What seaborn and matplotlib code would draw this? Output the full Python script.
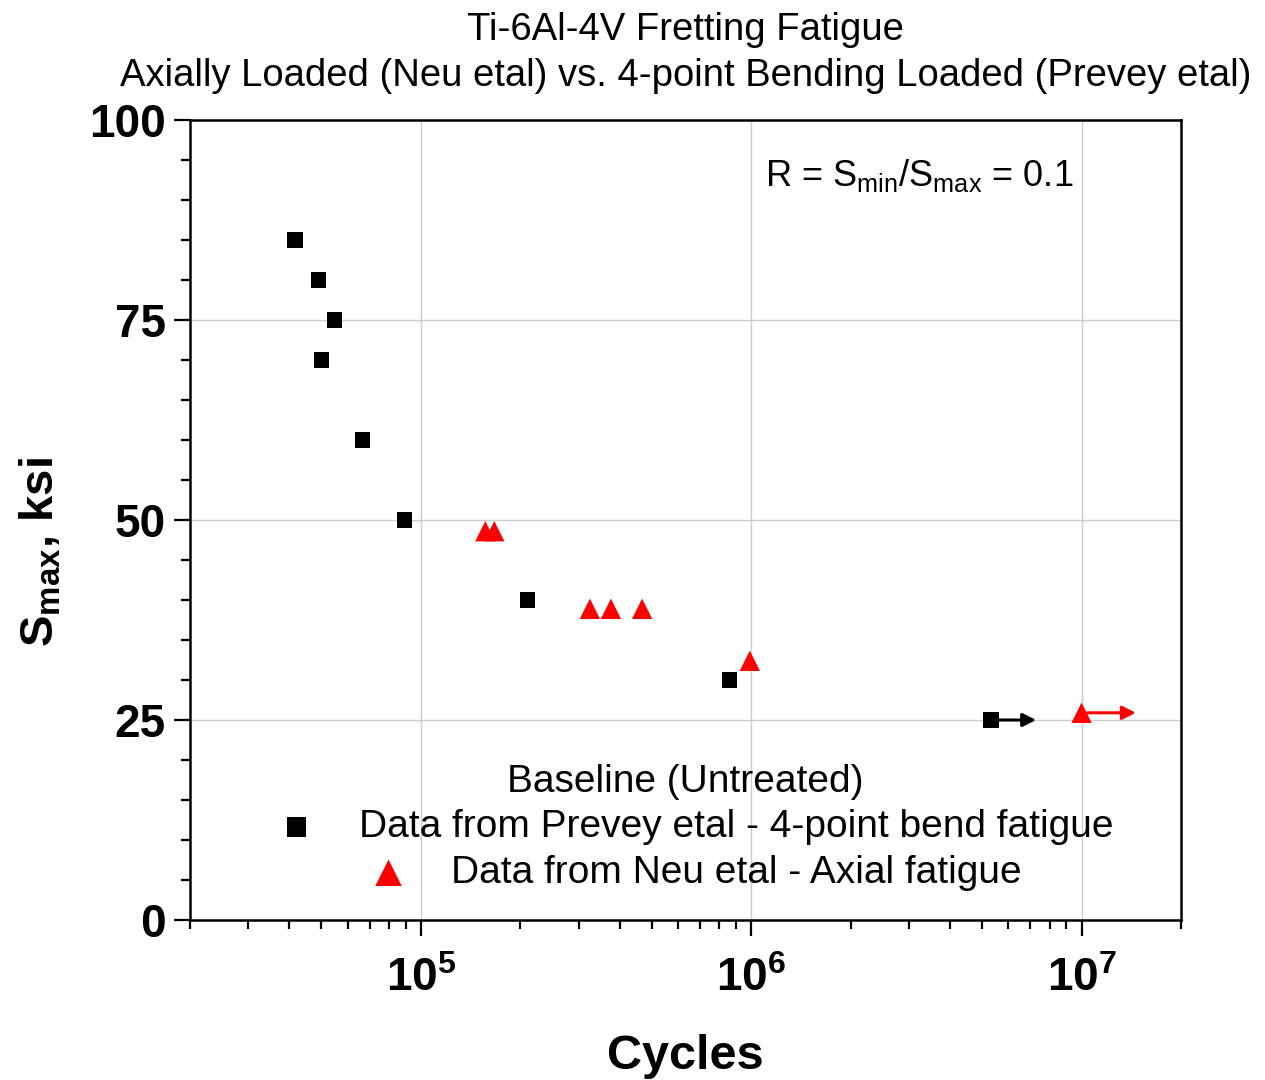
import numpy as np
import pandas as pd
import matplotlib
matplotlib.use("Agg")
import matplotlib.pyplot as plt
from matplotlib.ticker import FixedLocator, LogLocator, FuncFormatter, NullFormatter
import seaborn as sns

# ---- data ----
prevey_cycles = [41600, 48900, 54700, 50000, 66600, 89400, 210000, 860000, 5320000]
prevey_smax = [85, 80, 75, 70, 60, 50, 40, 30, 25]
neu_cycles = [156700, 166800, 324700, 376000, 467400, 990000, 10000000]
neu_smax = [48.6, 48.6, 38.9, 38.9, 38.9, 32.4, 25.9]
runout_prevey = [5320000]
runout_prevey_s = [25]
runout_neu = [10000000]
runout_neu_s = [25.9]
y_ticks = [0, 25, 50, 75, 100]
x_major = [1e5, 1e6, 1e7]

sns.set_theme(style="white")
plt.rcParams['font.family'] = ['Liberation Sans', 'DejaVu Sans']
plt.rcParams['mathtext.fontset'] = 'custom'
plt.rcParams['mathtext.rm'] = 'Liberation Sans'
plt.rcParams['mathtext.it'] = 'Liberation Sans'
plt.rcParams['mathtext.bf'] = 'Liberation Sans:bold'
for k in ['text.color', 'axes.labelcolor', 'xtick.color', 'ytick.color']:
    plt.rcParams[k] = 'black'

fig = plt.figure(figsize=(12.65, 10.8), dpi=100)
ax = fig.add_axes([190/1265, 160/1080, (1181-190)/1265, 800/1080])

df_p = pd.DataFrame({"Cycles": prevey_cycles, "Smax": prevey_smax})
df_n = pd.DataFrame({"Cycles": neu_cycles, "Smax": neu_smax})

sns.scatterplot(data=df_p, x="Cycles", y="Smax", marker="s", s=120, color="black",
                edgecolor="none", ax=ax, label="Data from Prevey etal - 4-point bend fatigue", zorder=3)
sns.scatterplot(data=df_n, x="Cycles", y="Smax", marker="^", s=215, color="red",
                edgecolor="none", ax=ax, label="Data from Neu etal - Axial fatigue", zorder=3)

# run-out arrows
for xs, ys, c, f in [(runout_prevey, runout_prevey_s, "black", 1.37), (runout_neu, runout_neu_s, "red", 1.46)]:
    for xv, yv in zip(xs, ys):
        ax.annotate("", xy=(xv * f, yv), xytext=(xv * 1.04, yv),
                    arrowprops=dict(arrowstyle="-|>", color=c, lw=2.2, mutation_scale=20,
                                    shrinkA=0, shrinkB=0), zorder=4)

ax.set_xscale("log")
ax.set_xlim(2e4, 2e7)
ax.set_ylim(0, 100)

ax.xaxis.set_major_locator(FixedLocator(x_major))
ax.xaxis.set_minor_locator(LogLocator(base=10, subs=np.arange(2, 10)))
ax.xaxis.set_minor_formatter(NullFormatter())
ax.xaxis.set_major_formatter(FuncFormatter(lambda v, p: r"$\mathbf{10^{%d}}$" % round(np.log10(v))))
ax.yaxis.set_major_locator(FixedLocator(y_ticks))
ax.yaxis.set_minor_locator(FixedLocator(np.arange(0, 101, 5)))

ax.grid(True, which="major", color="#cccccc", linewidth=1.0)
ax.set_axisbelow(True)

for sp in ax.spines.values():
    sp.set_visible(True)
    sp.set_color("black")
    sp.set_linewidth(1.8)

ax.tick_params(axis="both", which="major", direction="out", length=11.5, width=1.6, color="black")
ax.tick_params(axis="both", which="minor", direction="out", length=6.5, width=1.6, color="black")
ax.tick_params(axis="x", which="both", bottom=True, top=False, labelsize=33, pad=15)
ax.tick_params(axis="y", which="both", left=True, right=False, labelsize=33, pad=6)
for lab in ax.get_yticklabels():
    lab.set_fontweight("bold")

ax.set_xlabel("Cycles", fontsize=35, fontweight="bold", labelpad=24)
ax.set_ylabel(r"S$_{\mathbf{max}}$, ksi", fontsize=34, fontweight="bold")
ax.yaxis.set_label_coords(-0.128, 0.46)

ax.set_title("Ti-6Al-4V Fretting Fatigue\nAxially Loaded (Neu etal) vs. 4-point Bending Loaded (Prevey etal)",
             fontsize=27.5, pad=19, linespacing=1.35, va="bottom")

ax.text(0.58, 0.93, r"R = S$_{\mathrm{min}}$/S$_{\mathrm{max}}$ = 0.1", transform=ax.transAxes,
        fontsize=26, ha="left", va="center")

leg = ax.legend(title="Baseline (Untreated)", loc="lower center", bbox_to_anchor=(0.5, 0.012),
                frameon=False, fontsize=28, title_fontsize=28, handletextpad=0.6,
                labelspacing=0.25, borderaxespad=0.1, markerscale=1.3)
for col in leg._legend_handle_box.get_children():
    col.align = "center"

fig.savefig("out.png", dpi=100)
